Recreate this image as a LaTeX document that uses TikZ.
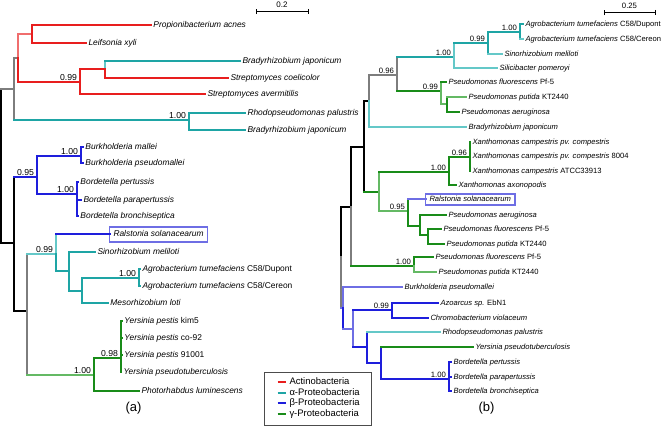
\documentclass[tikz,border=0pt]{standalone}
\usepackage{fontspec}
\setmainfont{Liberation Sans}
\usetikzlibrary{arrows.meta}
\definecolor{actc}{RGB}{232,30,30}
\definecolor{actl}{RGB}{240,110,110}
\definecolor{alpc}{RGB}{30,165,165}
\definecolor{alpl}{RGB}{100,200,200}
\definecolor{betc}{RGB}{30,30,220}
\definecolor{betl}{RGB}{110,110,228}
\definecolor{gamc}{RGB}{25,140,25}
\definecolor{gaml}{RGB}{100,185,100}
\definecolor{gry}{RGB}{125,125,125}
\colorlet{blk}{black}

\begin{document}
\begin{tikzpicture}[x=0.75pt,y=-0.75pt,line width=1.5pt]
\tikzset{taxa/.style={anchor=west,inner xsep=2.25pt,inner ysep=0pt,outer sep=0pt,font=\fontsize{6.3}{7}\selectfont\itshape,text height=4.5pt,text depth=1.3pt}}
\tikzset{taxb/.style={taxa,font=\fontsize{5.7}{6.5}\selectfont\itshape,text height=4.1pt,text depth=1.2pt}}
\tikzset{boot/.style={anchor=base east,inner sep=0pt,xshift=-1.2pt,yshift=1.8pt,font=\fontsize{6.5}{7}\selectfont}}
\tikzset{bootb/.style={boot,font=\fontsize{5.8}{6.5}\selectfont}}
\tikzset{leg/.style={anchor=west,inner sep=0pt,font=\fontsize{7.1}{8}\selectfont,text height=5.1pt,text depth=1.5pt}}
\useasboundingbox (0,0) rectangle (662,427);
\begin{scope}[shift={(0.5,0.5)}]

% tree (a)
\coordinate (ra) at (1,166);
\coordinate (a1) at (13,89);
\coordinate (a2) at (17,58);
\coordinate (a3) at (31,34);
\coordinate (a4) at (79,82);
\coordinate (a5) at (104,69);
\coordinate (a6) at (188,120);
\coordinate (a7) at (13,243);
\coordinate (a8) at (36,177);
\coordinate (a9) at (80,156);
\coordinate (a10) at (76,194);
\coordinate (a11) at (26,311);
\coordinate (a12) at (55,254);
\coordinate (a13) at (68,271);
\coordinate (a14) at (81,291);
\coordinate (a15) at (138,278);
\coordinate (a16) at (93,375);
\coordinate (a17) at (120,358);

\node[taxa] (pacn) at (150,25) {Propionibacterium acnes};
\node[taxa] (lxyl) at (85,43) {Leifsonia xyli};
\node[taxa] (bjpa) at (239,61) {Bradyrhizobium japonicum};
\node[taxa] (scoe) at (227,78) {Streptomyces coelicolor};
\node[taxa] (save) at (204,94) {Streptomyces avermitilis};
\node[taxa] (rpaa) at (244,113) {Rhodopseudomonas palustris};
\node[taxa] (bjpb) at (244,130) {Bradyrhizobium japonicum};
\node[taxa] (bmal) at (82,147) {Burkholderia mallei};
\node[taxa] (bpsa) at (82,163) {Burkholderia pseudomallei};
\node[taxa] (bpea) at (77,182) {Bordetella pertussis};
\node[taxa] (bpaa) at (80,200) {Bordetella parapertussis};
\node[taxa] (bbra) at (77,216) {Bordetella bronchiseptica};
\node[taxa,draw=betl,line width=0.9pt,inner xsep=3pt,inner ysep=2.7pt] (rsoa) at (109,234) {Ralstonia solanacearum};
\node[taxa] (smea) at (94,252) {Sinorhizobium meliloti};
\node[taxa] (atda) at (139,269) {Agrobacterium tumefaciens \upshape C58/Dupont};
\node[taxa] (atca) at (139,286) {Agrobacterium tumefaciens \upshape C58/Cereon};
\node[taxa] (mloa) at (107,303) {Mesorhizobium loti};
\node[taxa] (yksa) at (121,321) {Yersinia pestis \upshape kim5};
\node[taxa] (ycoa) at (121,338) {Yersinia pestis \upshape co-92};
\node[taxa] (y91a) at (121,355) {Yersinia pestis \upshape 91001};
\node[taxa] (ypsa) at (120,372) {Yersinia pseudotuberculosis};
\node[taxa] (plua) at (138,391) {Photorhabdus luminescens};

% tree (b)
\coordinate (rb) at (340,257);
\coordinate (b1) at (519,32);
\coordinate (b2) at (487,43);
\coordinate (b3) at (453,57);
\coordinate (b4) at (396,75);
\coordinate (b5) at (368,101);
\coordinate (b6) at (440,91);
\coordinate (b7) at (446,104);
\coordinate (b8) at (363,147);
\coordinate (b9) at (378,192);
\coordinate (b10) at (448,172);
\coordinate (b11) at (469,157);
\coordinate (b12) at (407,211);
\coordinate (b13) at (419,226);
\coordinate (b14) at (427,235);
\coordinate (b15) at (413,266);
\coordinate (b16) at (350,207);
\coordinate (b18) at (342,308);
\coordinate (b19) at (352,329);
\coordinate (b20) at (391,310);
\coordinate (b21) at (366,347);
\coordinate (b22) at (380,363);
\coordinate (b23) at (448,379);

\node[taxb] (atdb) at (522,24) {Agrobacterium tumefaciens \upshape C58/Dupont};
\node[taxb] (atcb) at (522,39) {Agrobacterium tumefaciens \upshape C58/Cereon};
\node[taxb] (smeb) at (501,54) {Sinorhizobium meliloti};
\node[taxb] (spob) at (496,68) {Silicibacter pomeroyi};
\node[taxb] (pfla) at (445,82) {Pseudomonas fluorescens \upshape Pf-5};
\node[taxb] (ppua) at (465,97) {Pseudomonas putida \upshape KT2440};
\node[taxb] (paea) at (458,112) {Pseudomonas aeruginosa};
\node[taxb] (bjpc) at (465,127) {Bradyrhizobium japonicum};
\node[taxb] (xcca) at (469,142) {Xanthomonas campestris pv. compestris};
\node[taxb] (xccb) at (469,156) {Xanthomonas campestris pv. compestris \upshape 8004};
\node[taxb] (xccc) at (469,171) {Xanthomonas campestris \upshape ATCC33913};
\node[taxb] (xaxb) at (455,185) {Xanthomonas axonopodis};
\node[taxb,draw=betl,line width=0.9pt,inner xsep=3pt,inner ysep=1.5pt] (rsob) at (425,199) {Ralstonia solanacearum};
\node[taxb] (paeb) at (445,215) {Pseudomonas aeruginosa};
\node[taxb] (pflb) at (440,229) {Pseudomonas fluorescens \upshape Pf-5};
\node[taxb] (ppub) at (443,244) {Pseudomonas putida \upshape KT2440};
\node[taxb] (pflc) at (432,257) {Pseudomonas fluorescens \upshape Pf-5};
\node[taxb] (ppuc) at (435,272) {Pseudomonas putida \upshape KT2440};
\node[taxb] (bpsb) at (401,287) {Burkholderia pseudomallei};
\node[taxb] (azob) at (437,303) {Azoarcus sp. \upshape EbN1};
\node[taxb] (cvib) at (427,318) {Chromobacterium violaceum};
\node[taxb] (rpab) at (439,332) {Rhodopseudomonas palustris};
\node[taxb] (ypsb) at (472,347) {Yersinia pseudotuberculosis};
\node[taxb] (bpeb) at (450,362) {Bordetella pertussis};
\node[taxb] (bpab) at (450,377) {Bordetella parapertussis};
\node[taxb] (bbrb) at (450,391) {Bordetella bronchiseptica};

% branches: parent/child/vertical colour/horizontal colour
\foreach \p/\c/\v/\h in {ra/a1/blk/gry, ra/a7/blk/blk, a1/a2/gry/gry, a1/a6/gry/alpc,
  a2/a3/actl/actl, a2/a4/actc/actc, a3/pacn/actc/actc, a3/lxyl/actc/actc,
  a4/a5/actc/actc, a4/save/actc/actc, a5/bjpa/alpl/alpc, a5/scoe/actc/actc,
  a6/rpaa/alpc/alpc, a6/bjpb/alpc/alpc, a7/a8/blk/betc, a7/a11/blk/blk,
  a8/a9/betc/betc, a8/a10/betc/betc, a9/bmal/betc/betc, a9/bpsa/betc/betc,
  a10/bpea/betc/betc, a10/bpaa/betc/betc, a10/bbra/betc/betc,
  a11/a12/gry/alpl, a11/a16/gry/gaml, a12/rsoa/alpl/betc, a12/a13/alpc/alpc,
  a13/smea/alpc/alpc, a13/a14/alpc/alpc, a14/a15/alpc/alpc, a14/mloa/alpc/alpc,
  a15/atda/alpc/alpc, a15/atca/alpc/alpc, a16/a17/gamc/gamc, a16/plua/gamc/gamc,
  a17/yksa/gamc/gamc, a17/ycoa/gamc/gamc, a17/y91a/gamc/gamc, a17/ypsa/gamc/gamc,
  rb/b16/blk/blk, rb/b18/gry/betl, b16/b8/blk/blk, b16/b15/gry/gamc,
  b8/b5/blk/blk, b8/b9/blk/gamc, b5/b4/gry/gry, b5/bjpc/alpl/alpl,
  b4/b3/gry/alpc, b4/b6/gry/gamc, b3/b2/alpl/alpc, b3/spob/alpl/alpl,
  b2/b1/alpc/alpc, b2/smeb/alpc/alpl, b1/atdb/alpc/alpc, b1/atcb/alpc/alpl,
  b6/pfla/gaml/gamc, b6/b7/gaml/gaml, b7/ppua/gamc/gaml, b7/paea/gamc/gamc,
  b9/b10/gaml/gamc, b9/b12/gaml/gaml, b10/b11/gamc/gamc, b10/xaxb/gamc/gamc,
  b11/xcca/gamc/gamc, b11/xccb/gamc/gamc, b11/xccc/gamc/gamc,
  b12/rsob/gamc/betl, b12/b13/gamc/gamc, b13/paeb/gamc/gamc, b13/b14/gamc/gamc,
  b14/pflb/gamc/gamc, b14/ppub/gamc/gamc, b15/pflc/gamc/gamc, b15/ppuc/gaml/gaml,
  b18/bpsb/betl/betl, b18/b19/betc/betl, b19/b20/betl/betc, b19/b21/betl/betc,
  b20/azob/betc/betc, b20/cvib/betc/betc, b21/rpab/betc/alpl, b21/b22/betc/betc,
  b22/ypsb/betc/gamc, b22/b23/betc/betc,
  b23/bpeb/betc/betc, b23/bpab/betc/betc, b23/bbrb/betc/betc}
  {\draw[draw=\v,line cap=rect] (\p) -- (\p |- \c); \draw[draw=\h,line cap=rect] (\p |- \c) -- (\c.west);}

% support values
\foreach \n/\s in {a4/0.99, a6/1.00, a8/0.95, a9/1.00, a10/1.00, a12/0.99, a15/1.00, a16/1.00, a17/0.98}
  \node[boot] (s\n) at (\n) {\s};
\foreach \n/\s in {b1/1.00, b2/0.99, b3/1.00, b4/0.96, b6/0.99, b10/1.00, b11/0.96, b12/0.95, b15/1.00, b20/0.99, b23/1.00}
  \node[bootb] (s\n) at (\n) {\s};

% scale bars
\coordinate (sa1) at (255,11); \coordinate (sa2) at (308,11);
\coordinate (sb1) at (603,12); \coordinate (sb2) at (655,12);
\draw[{Bar[width=4pt]}-{Bar[width=4pt]},line width=0.75pt] (sa1) -- node[above,inner sep=0pt,yshift=2.2pt,font=\fontsize{6}{7}\selectfont] (sca) {0.2} (sa2);
\draw[{Bar[width=4pt]}-{Bar[width=4pt]},line width=0.75pt] (sb1) -- node[above,inner sep=0pt,yshift=2.2pt,font=\fontsize{5.8}{7}\selectfont] (scb) {0.25} (sb2);

% legend
\draw[gray!60!black,line width=0.8pt] (264,372) rectangle (371,425);
\foreach \y/\c/\t in {382/actc/Actinobacteria, 393/alpc/α-Proteobacteria, 403/betc/β-Proteobacteria, 414/gamc/γ-Proteobacteria}{
  \coordinate (l\y) at (277,\y);
  \node[leg] (t\y) at (288,\y) {\t};
  \draw[draw=\c] (l\y) -- (285,\y);}

\node[font=\fontsize{9.75}{11}\selectfont] (capa) at (133,408) {(a)};
\node[font=\fontsize{9.75}{11}\selectfont] (capb) at (486,408) {(b)};
\end{scope}
\end{tikzpicture}
\end{document}
